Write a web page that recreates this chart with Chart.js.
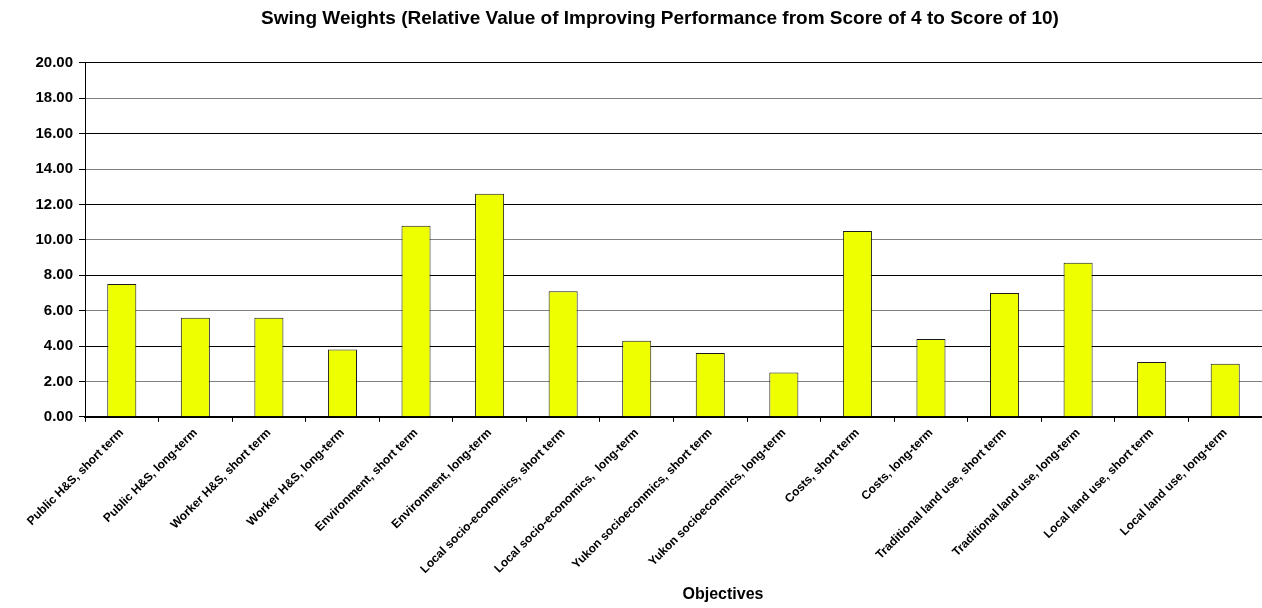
<!DOCTYPE html>
<html>
<head>
<meta charset="utf-8">
<title>Swing Weights</title>
<script src="https://cdn.jsdelivr.net/npm/chart.js@4/dist/chart.umd.min.js"></script>
<style>
body{margin:0;background:#fff;}
#grafico_pesos{display:block;}
</style>
</head>
<body>
<canvas id="grafico_pesos" width="1262" height="608"></canvas>
<script>
// datos
var objetivos = [
	"Public H&S, short term",
	"Public H&S, long-term",
	"Worker H&S, short term",
	"Worker H&S, long-term",
	"Environment, short term",
	"Environment, long-term",
	"Local socio-economics, short term",
	"Local socio-economics,  long-term",
	"Yukon socioeconmics, short term",
	"Yukon socioeconmics, long-term",
	"Costs, short term",
	"Costs, long-term",
	"Traditional land use, short term",
	"Traditional land use, long-term",
	"Local land use, short term",
	"Local land use, long-term"
];
var pesos = [7.5, 5.6, 5.6, 3.8, 10.8, 12.6, 7.1, 4.3, 3.6, 2.5, 10.5, 4.4, 7.0, 8.7, 3.1, 3.0];
var eje_y_min = 0;
var eje_y_max = 20;
var eje_y_paso = 2;
var titulo_grafico = "Swing Weights (Relative Value of Improving Performance from Score of 4 to Score of 10)";
var titulo_eje_x = "Objectives";

var fuente = "Arial, 'Liberation Sans', sans-serif";

// mueve los titulos un poco a la derecha, como en el original
var plugin_centrar_titulos = {
	id: "centrar_titulos",
	afterLayout: function(chart){
		chart.boxes.forEach(function(box){
			if(box.options && box.options.text === titulo_grafico){
				box.left = 58;
			}
			if(box.options && box.options.text === titulo_eje_x){
				box.left = 184;
			}
		});
	}
};

function sec_grafico_pesos(){
	var $grafico = document.getElementById("grafico_pesos");
	new Chart($grafico, {
		type: "bar",
		data: {
			labels: objetivos,
			datasets: [{
				label: "Swing Weights",
				data: pesos,
				backgroundColor: "#eeff00",
				borderColor: "#1a1a1a",
				borderWidth: 1,
				barPercentage: 0.395,
				categoryPercentage: 1
			}]
		},
		plugins: [plugin_centrar_titulos],
		options: {
			responsive: false,
			animation: false,
			layout: { padding: 0 },
			plugins: {
				legend: { display: false },
				tooltip: { enabled: false },
				title: {
					display: true,
					text: titulo_grafico,
					color: "#000",
					font: { family: fuente, size: 19, weight: "bold" },
					padding: { top: 7, bottom: 33 }
				},
				subtitle: {
					display: true,
					position: "bottom",
					text: titulo_eje_x,
					color: "#000",
					font: { family: fuente, size: 16, weight: "bold" },
					padding: { top: 0, bottom: 4 }
				}
			},
			scales: {
				x: {
					offset: true,
					grid: {
						offset: true,
						drawOnChartArea: false,
						drawTicks: true,
						tickLength: 5,
						color: "#000"
					},
					border: { display: true, color: "#000", width: 2 },
					ticks: {
						autoSkip: false,
						maxRotation: 45,
						minRotation: 45,
						padding: 4,
						color: "#000",
						font: { family: fuente, size: 12, weight: "bold" }
					},
					afterFit: function(scale){
						scale.height = 168;
						scale.paddingLeft = 0;
						scale.paddingRight = 0;
					}
				},
				y: {
					min: eje_y_min,
					max: eje_y_max,
					grid: {
						color: function(ctx){
							return ctx.index % 2 == 1 ? "#808080" : "#000000";
						},
						lineWidth: 1,
						tickLength: 6,
						tickColor: "#000"
					},
					border: { display: true, color: "#000", width: 1 },
					ticks: {
						stepSize: eje_y_paso,
						padding: 6,
						color: "#000",
						font: { family: fuente, size: 15, weight: "bold" },
						callback: function(valor){
							return Number(valor).toFixed(2);
						}
					},
					afterFit: function(scale){
						scale.width = 85;
						scale.paddingTop = 0;
						scale.paddingBottom = 0;
					}
				}
			}
		}
	});
}
sec_grafico_pesos();
</script>
</body>
</html>
